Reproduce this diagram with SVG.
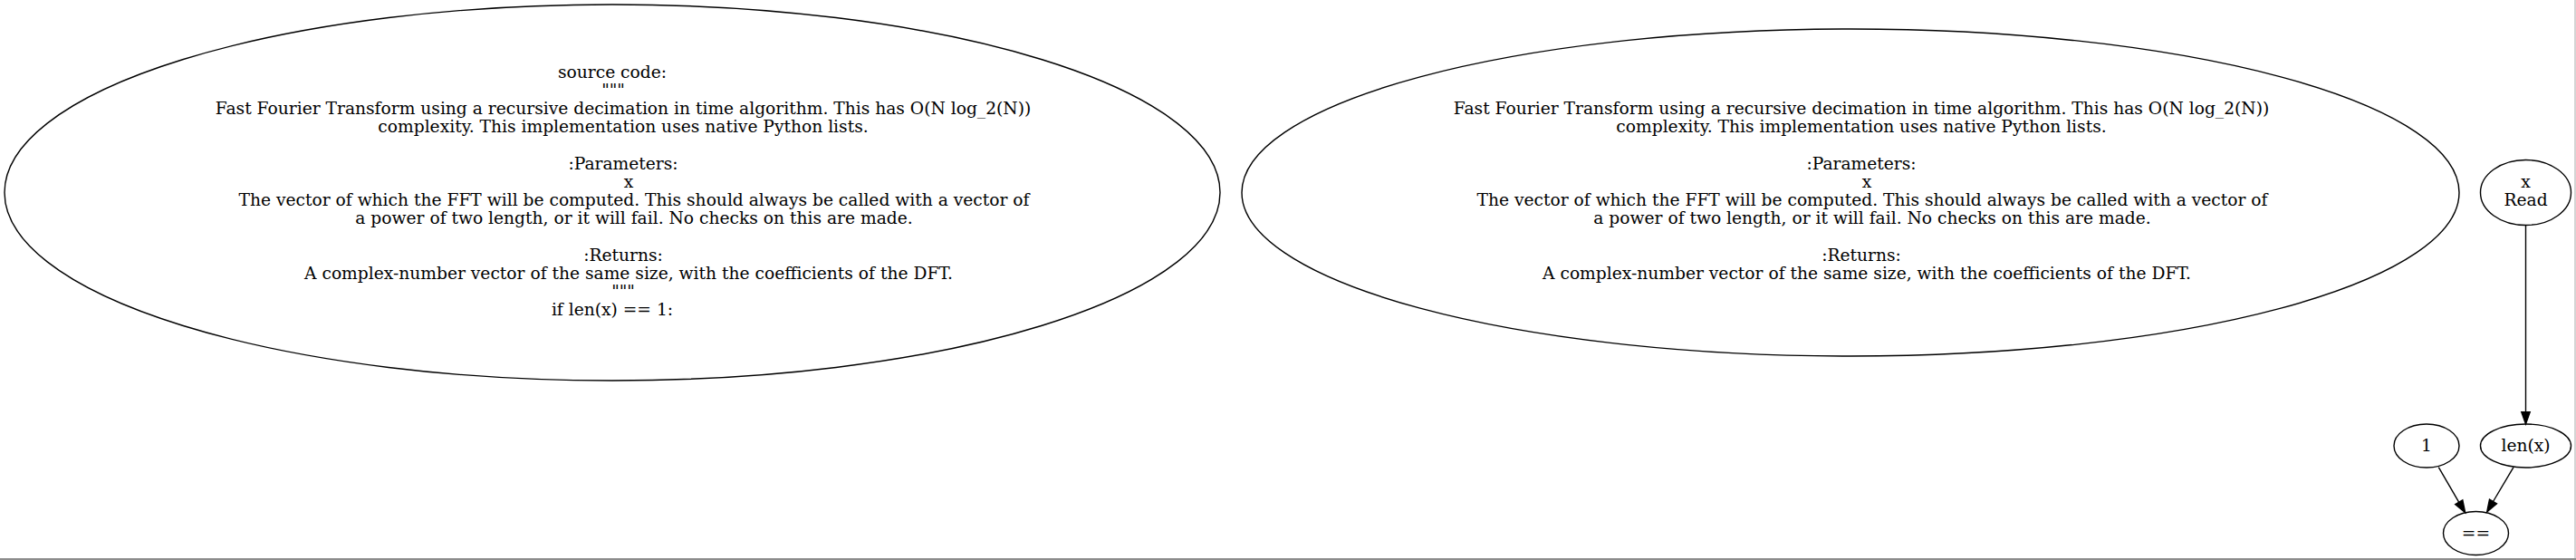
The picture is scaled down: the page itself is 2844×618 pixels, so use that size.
<svg xmlns="http://www.w3.org/2000/svg" width="2844" height="618" viewBox="0 0 2844 618">
<style>
text { font-family: "DejaVu Serif", "Liberation Serif", serif; font-size: 18.67px; fill: #000; text-anchor: middle; }
ellipse { fill: none; stroke: #000; stroke-width: 1.4; }
.edge line { stroke: #000; stroke-width: 1.4; }
.edge polygon { fill: #000; stroke: #000; stroke-width: 1.4; }
</style>
<rect x="0" y="0" width="2844" height="618" fill="#fff"/>
<g id="source_code" class="node">
<ellipse cx="676" cy="212.5" rx="671" ry="207.5"/>
<text x="676" y="86">source code:</text>
<text x="677" y="106.15">"""</text>
<text x="688" y="126.3">Fast Fourier Transform using a recursive decimation in time algorithm. This has O(N log_2(N))</text>
<text x="688" y="146.45">complexity. This implementation uses native Python lists.</text>
<text x="688" y="186.75">:Parameters:</text>
<text x="694" y="206.9">x</text>
<text x="700" y="227.05">The vector of which the FFT will be computed. This should always be called with a vector of</text>
<text x="700" y="247.2">a power of two length, or it will fail. No checks on this are made.</text>
<text x="688" y="287.5">:Returns:</text>
<text x="694" y="307.65">A complex-number vector of the same size, with the coefficients of the DFT.</text>
<text x="688" y="327.8">"""</text>
<text x="676" y="347.95">if len(x) == 1:</text>
</g>
<g id="docstring" class="node">
<ellipse cx="2043" cy="212.5" rx="672" ry="180.5"/>
<text x="2055" y="126.3">Fast Fourier Transform using a recursive decimation in time algorithm. This has O(N log_2(N))</text>
<text x="2055" y="146.45">complexity. This implementation uses native Python lists.</text>
<text x="2055" y="186.75">:Parameters:</text>
<text x="2061" y="206.9">x</text>
<text x="2067" y="227.05">The vector of which the FFT will be computed. This should always be called with a vector of</text>
<text x="2067" y="247.2">a power of two length, or it will fail. No checks on this are made.</text>
<text x="2055" y="287.5">:Returns:</text>
<text x="2061" y="307.65">A complex-number vector of the same size, with the coefficients of the DFT.</text>
</g>
<g id="x_read" class="node">
<ellipse cx="2788.5" cy="212.5" rx="50" ry="36"/>
<text x="2788.5" y="207">x</text>
<text x="2788.5" y="227">Read</text>
</g>
<g id="len_x" class="node">
<ellipse cx="2788.5" cy="492" rx="50" ry="24"/>
<text x="2788.5" y="498">len(x)</text>
</g>
<g id="one" class="node">
<ellipse cx="2679" cy="492" rx="36" ry="24"/>
<text x="2679" y="498">1</text>
</g>
<g id="eq" class="node">
<ellipse cx="2733.5" cy="588.5" rx="36" ry="24"/>
<text x="2733.5" y="594.5">==</text>
</g>
<g id="edges" class="edge">
<line x1="2788.5" y1="248.5" x2="2788.5" y2="454.7"/>
<polygon points="2783.8,454.7 2793.2,454.7 2788.5,468"/>
<line x1="2692.3" y1="515.7" x2="2714.8" y2="554.3"/>
<polygon points="2710.7,556.6 2718.8,551.9 2721.7,565.7"/>
<line x1="2775" y1="515.7" x2="2752.5" y2="553.5"/>
<polygon points="2748.5,551.1 2756.5,555.9 2745.7,565"/>
</g>
<rect x="0" y="616" width="2844" height="2" fill="#8c8c8c"/>
<rect x="2842" y="0" width="2" height="616" fill="#d4d4d4"/>
</svg>
